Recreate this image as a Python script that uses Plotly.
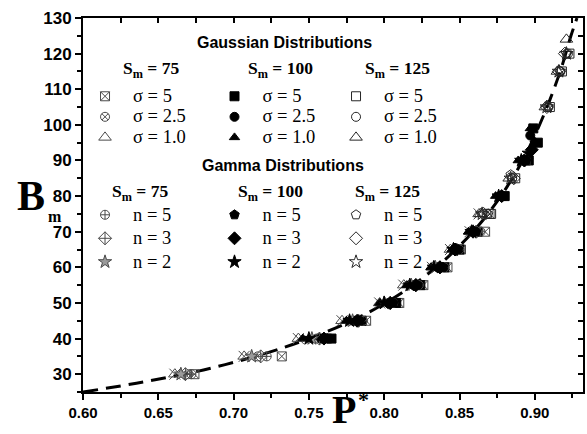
import plotly.graph_objects as go

# ---------------- data ----------------
curve_p = [0.600, 0.640, 0.680, 0.720, 0.750, 0.780, 0.800, 0.820, 0.840, 0.860, 0.875, 0.890, 0.900, 0.910, 0.918, 0.924, 0.928]
curve_b = [25.0, 27.8, 31.2, 35.7, 40.0, 45.3, 49.8, 55.3, 62.0, 70.5, 78.5, 88.5, 97.0, 107.0, 116.5, 125.0, 130.0]

# Gaussian, S_m = 75
g75_s5_p = [0.674, 0.732, 0.762, 0.788, 0.810, 0.826, 0.842, 0.851, 0.867, 0.870]
g75_s5_b = [30, 35, 40, 45, 50, 55, 60, 65, 70, 75]
g75_s25_p = [0.670, 0.716, 0.755, 0.782, 0.805, 0.820, 0.838, 0.848, 0.862, 0.866, 0.885]
g75_s25_b = [30, 35, 40, 45, 50, 55, 60, 65, 70, 75, 85]
g75_s1_p = [0.661, 0.707, 0.743, 0.772, 0.797, 0.813, 0.832, 0.844, 0.857, 0.863]
g75_s1_b = [30, 35, 40, 45, 50, 55, 60, 65, 70, 75]
# Gaussian, S_m = 100
g100_s5_p = [0.765, 0.785, 0.808, 0.824, 0.840, 0.850, 0.862, 0.880, 0.896, 0.902, 0.899]
g100_s5_b = [40, 45, 50, 55, 60, 65, 70, 80, 90, 95, 99]
g100_s25_p = [0.758, 0.780, 0.803, 0.820, 0.836, 0.848, 0.860, 0.877, 0.892, 0.897]
g100_s25_b = [40, 45, 50, 55, 60, 65, 70, 80, 90, 97]
g100_s1_p = [0.746, 0.775, 0.797, 0.815, 0.831, 0.845, 0.856, 0.874, 0.889, 0.897]
g100_s1_b = [40, 45, 50, 55, 60, 65, 70, 80, 90, 99]
# Gaussian, S_m = 125
g125_s5_p = [0.871, 0.887, 0.894, 0.910, 0.918, 0.923]
g125_s5_b = [75, 85, 90, 105, 115, 120]
g125_s25_p = [0.868, 0.885, 0.909, 0.917, 0.922]
g125_s25_b = [75, 85, 105, 115, 120]
g125_s1_p = [0.864, 0.883, 0.907, 0.915, 0.921]
g125_s1_b = [75, 85, 105, 115, 124]

# Gamma, S_m = 75
m75_n5_p = [0.672, 0.722, 0.760, 0.786, 0.806, 0.823, 0.840, 0.850, 0.864]
m75_n5_b = [30, 35, 40, 45, 50, 55, 60, 65, 70]
m75_n3_p = [0.668, 0.718, 0.757, 0.783, 0.804, 0.821, 0.837, 0.848, 0.861]
m75_n3_b = [30, 35, 40, 45, 50, 55, 60, 65, 70]
m75_n2_p = [0.665, 0.712, 0.752, 0.779, 0.800, 0.818, 0.834, 0.846, 0.859]
m75_n2_b = [30, 35, 40, 45, 50, 55, 60, 65, 70]
# Gamma, S_m = 100
m100_n5_p = [0.762, 0.784, 0.806, 0.822, 0.839, 0.849, 0.861, 0.879, 0.894, 0.900]
m100_n5_b = [40, 45, 50, 55, 60, 65, 70, 80, 90, 95]
m100_n3_p = [0.760, 0.782, 0.804, 0.821, 0.837, 0.847, 0.859, 0.878, 0.893, 0.898]
m100_n3_b = [40, 45, 50, 55, 60, 65, 70, 80, 90, 93]
m100_n2_p = [0.750, 0.777, 0.800, 0.817, 0.833, 0.846, 0.858, 0.876, 0.891, 0.896]
m100_n2_b = [40, 45, 50, 55, 60, 65, 70, 80, 90, 92]
# Gamma, S_m = 125
m125_n5_p = [0.869, 0.884, 0.909, 0.917, 0.921]
m125_n5_b = [75, 86, 105, 115, 120]
m125_n3_p = [0.866, 0.886, 0.908, 0.916, 0.920]
m125_n3_b = [75, 85, 105, 115, 120]
m125_n2_p = [0.865, 0.884, 0.908, 0.916, 0.921]
m125_n2_b = [75, 85, 105, 115, 120]

sm_labels = ["75", "100", "125"]
sigma_labels = ["σ = 5", "σ = 2.5", "σ = 1.0"]
n_labels = ["n = 5", "n = 3", "n = 2"]

x_range = [0.6, 0.932]
y_range = [25, 130]

# ---------------- figure ----------------
fig = go.Figure()

fig.add_trace(go.Scatter(x=curve_p, y=curve_b, mode="lines", showlegend=False,
                         line=dict(color="black", width=3, dash="15px,8px", shape="spline"),
                         hoverinfo="skip"))

GRAY = "#4a4a4a"
DARK = "#262626"


def lbl(t):
    return f'<span style="font-size:18.5px">{t}</span>'


def add(p, b, name, legend, symbol, stroke, fill=None, size=9, overlay=None):
    marker = dict(symbol=symbol, size=size, line=dict(color=stroke, width=1))
    marker["color"] = fill if fill is not None else stroke
    fig.add_trace(go.Scatter(x=p, y=b, mode="markers", name=lbl(name), legend=legend,
                             marker=marker))
    if overlay:
        fig.add_trace(go.Scatter(x=p, y=b, mode="markers", showlegend=False,
                                 marker=dict(symbol=overlay, size=size, color=stroke,
                                             line=dict(color=stroke, width=1))))


# Gaussian
add(g75_s5_p, g75_s5_b, sigma_labels[0], "legend", "square-x-open", GRAY)
add(g75_s25_p, g75_s25_b, sigma_labels[1], "legend", "circle-x-open", GRAY)
add(g75_s1_p, g75_s1_b, sigma_labels[2], "legend", "triangle-up-open", GRAY, size=11, overlay="x-thin-open")
add(g100_s5_p, g100_s5_b, sigma_labels[0], "legend2", "square", "black")
add(g100_s25_p, g100_s25_b, sigma_labels[1], "legend2", "circle", "black")
add(g100_s1_p, g100_s1_b, sigma_labels[2], "legend2", "triangle-up", "black")
add(g125_s5_p, g125_s5_b, sigma_labels[0], "legend3", "square-open", DARK)
add(g125_s25_p, g125_s25_b, sigma_labels[1], "legend3", "circle-open", DARK)
add(g125_s1_p, g125_s1_b, sigma_labels[2], "legend3", "triangle-up-open", DARK, size=11)
# Gamma
add(m75_n5_p, m75_n5_b, n_labels[0], "legend4", "circle-cross-open", GRAY)
add(m75_n3_p, m75_n3_b, n_labels[1], "legend4", "diamond-cross-open", GRAY, size=10)
add(m75_n2_p, m75_n2_b, n_labels[2], "legend4", "star", GRAY, fill="#9a9a9a", size=10)
add(m100_n5_p, m100_n5_b, n_labels[0], "legend5", "pentagon", "black", size=10)
add(m100_n3_p, m100_n3_b, n_labels[1], "legend5", "diamond", "black", size=10)
add(m100_n2_p, m100_n2_b, n_labels[2], "legend5", "star", "black", size=10)
add(m125_n5_p, m125_n5_b, n_labels[0], "legend6", "pentagon-open", DARK, size=10)
add(m125_n3_p, m125_n3_b, n_labels[1], "legend6", "diamond-open", DARK, size=10)
add(m125_n2_p, m125_n2_b, n_labels[2], "legend6", "star-open", DARK, size=10)

# overlay axes only for inward ticks on top / right
fig.add_trace(go.Scatter(x=[x_range[0]], y=[y_range[0]], xaxis="x2", yaxis="y2",
                         mode="markers", marker=dict(opacity=0), showlegend=False,
                         hoverinfo="skip"))

SERIF = "Liberation Serif, Times New Roman, serif"
SANS = "Liberation Sans, Arial, sans-serif"


def leg(x, y, fsize):
    return dict(x=x, y=y, bgcolor="rgba(0,0,0,0)", borderwidth=0, itemwidth=46,
                font=dict(family=SERIF, size=fsize, color="black"),
                xanchor="left", yanchor="top", traceorder="normal",
                itemclick=False, itemdoubleclick=False)


def px_x(px):
    return (px - 83) / 502


def px_y(py):
    return (392 - py) / 374


gx = [px_x(77), px_x(207), px_x(329)]
fig.update_layout(
    legend=leg(gx[0], px_y(81), 13.5),
    legend2=leg(gx[1], px_y(81), 13.5),
    legend3=leg(gx[2], px_y(81), 13.5),
    legend4=leg(gx[0], px_y(198), 15.8),
    legend5=leg(gx[1], px_y(198), 15.8),
    legend6=leg(gx[2], px_y(198), 15.8),
)

fig.update_layout(
    width=587, height=434,
    margin=dict(l=83, r=2, t=18, b=42),
    paper_bgcolor="white", plot_bgcolor="white",
    xaxis=dict(range=x_range, dtick=0.05, tick0=0.6, tickformat=".2f",
               ticks="outside", ticklen=6, tickwidth=1.5, tickcolor="black",
               showline=True, linecolor="black", linewidth=2, mirror=True,
               showgrid=False, zeroline=False,
               tickfont=dict(family=SANS, size=15, color="black", weight="bold"),
               minor=dict(dtick=0.025, ticks="outside", ticklen=4, tickwidth=1.5,
                          tickcolor="black", showgrid=False)),
    yaxis=dict(range=y_range, dtick=10, tick0=0,
               ticks="outside", ticklen=6, tickwidth=1.5, tickcolor="black",
               showline=True, linecolor="black", linewidth=2, mirror=True,
               showgrid=False, zeroline=False,
               tickfont=dict(family=SANS, size=17, color="black", weight="bold"),
               minor=dict(dtick=5, ticks="outside", ticklen=4, tickwidth=1.5,
                          tickcolor="black", showgrid=False)),
    xaxis2=dict(range=x_range, overlaying="x", side="top", dtick=0.025, tick0=0.6,
                ticks="inside", ticklen=5, tickwidth=1.5, tickcolor="black",
                showticklabels=False, showgrid=False, zeroline=False, showline=False),
    yaxis2=dict(range=y_range, overlaying="y", side="right", dtick=5, tick0=0,
                ticks="inside", ticklen=5, tickwidth=1.5, tickcolor="black",
                showticklabels=False, showgrid=False, zeroline=False, showline=False),
)

ann = []
ann.append(dict(text="<b>Gaussian Distributions</b>", x=px_x(285), y=px_y(42),
                font=dict(family=SANS, size=16, color="black")))
ann.append(dict(text="<b>Gamma Distributions</b>", x=px_x(284), y=px_y(165),
                font=dict(family=SANS, size=16, color="black")))
for cx, label in zip([151, 281, 399], sm_labels):
    ann.append(dict(text=f"<b>S<sub>m</sub> = {label}</b>", x=px_x(cx), y=px_y(69),
                    font=dict(family=SERIF, size=17.5, color="black")))
for cx, label in zip([140, 271, 389], sm_labels):
    ann.append(dict(text=f"<b>S<sub>m</sub> = {label}</b>", x=px_x(cx), y=px_y(192),
                    font=dict(family=SERIF, size=17.5, color="black")))
ann.append(dict(text="<b>B</b>", x=px_x(31), y=px_y(196),
                font=dict(family=SERIF, size=42, color="black")))
ann.append(dict(text="<b>m</b>", x=px_x(55), y=px_y(216),
                font=dict(family=SERIF, size=16, color="black")))
ann.append(dict(text="<b>P</b>", x=px_x(345), y=px_y(434), yanchor="bottom",
                font=dict(family=SERIF, size=40, color="black")))
ann.append(dict(text="<b>*</b>", x=px_x(365), y=px_y(399),
                font=dict(family=SERIF, size=22, color="black")))
for a in ann:
    a.setdefault("yanchor", "middle")
    a.update(xref="paper", yref="paper", showarrow=False, xanchor="center")
fig.update_layout(annotations=ann)

fig.write_html("out.html")
